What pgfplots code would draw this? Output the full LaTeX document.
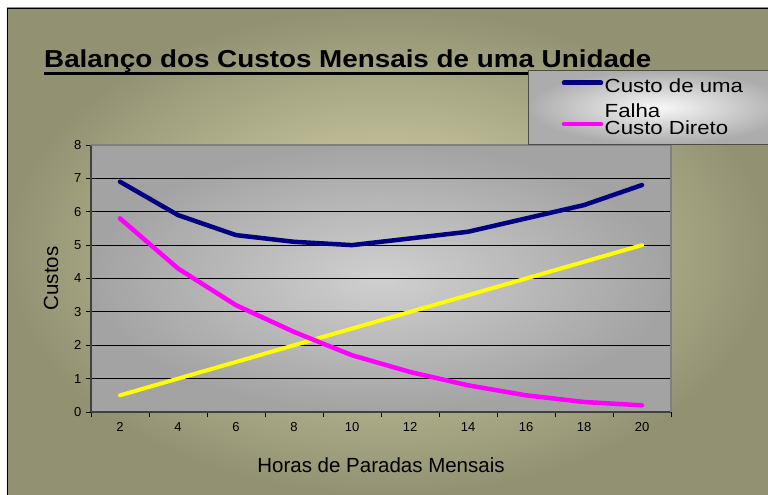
\documentclass[border=0pt]{standalone}
\usepackage{fontspec}
\setmainfont{Liberation Sans}
\usepackage{pgfplots}
\pgfplotsset{compat=1.18}
\pgfdeclarelayer{background}
\pgfsetlayers{background,main}
\definecolor{navyc}{RGB}{0,0,128}
\definecolor{pinkc}{RGB}{255,0,255}
\definecolor{yellowc}{RGB}{255,255,0}
\definecolor{olivelight}{RGB}{222,221,178}
\definecolor{olivedark}{RGB}{146,145,114}
\definecolor{plotlight}{RGB}{208,208,208}
\definecolor{plotdark}{RGB}{163,163,163}
\definecolor{leglight}{RGB}{248,248,248}
\definecolor{legdark}{RGB}{172,172,172}
\newcommand{\myul}[1]{\setbox0\hbox{#1}\rlap{\rule[-7.5pt]{\wd0}{3pt}}\box0}
\newcommand{\lt}[1]{\scalebox{1.17}[1]{#1}}
\pgfplotstableread{
x blue pink yellow
2 6.9 5.8 0.5
4 5.9 4.3 1.0
6 5.3 3.2 1.5
8 5.1 2.4 2.0
10 5.0 1.7 2.5
12 5.2 1.2 3.0
14 5.4 0.8 3.5
16 5.8 0.5 4.0
18 6.2 0.3 4.5
20 6.8 0.2 5.0
}\datatable
\begin{document}
\begin{tikzpicture}
\begin{axis}[
  scale only axis, width=580pt, height=267pt,
  xmin=1, xmax=21, ymin=0, ymax=8,
  axis x line*=bottom, axis y line*=left,
  axis line style={draw=black!75, line width=1.5pt},
  xtick={1,3,...,21}, xticklabels={,,,,,,,,,,,},
  extra x ticks={2,4,...,20},
  extra x tick labels={2,4,6,8,10,12,14,16,18,20},
  extra x tick style={major tick length=0pt, tick style={draw=none}},
  ytick={0,1,...,8},
  tick align=outside,
  major tick length=5pt,
  tick style={black, line width=0.8pt},
  ymajorgrids,
  grid style={black, line width=0.8pt},
  /pgf/number format/assume math mode=true,
  ticklabel style={font=\fontsize{13}{16}\selectfont},
  xticklabel style={yshift=-7pt},
  yticklabel style={xshift=-1pt},
  xlabel={Horas de Paradas Mensais},
  ylabel={Custos},
  label style={font=\fontsize{20.5}{24}\selectfont},
  xlabel style={at={(axis description cs:0.5,-0.1985)}, anchor=center},
  ylabel style={at={(axis description cs:-0.069,0.5)}, anchor=center},
  axis background/.style={shade, inner color=plotlight, outer color=plotdark},
  legend image code/.code={\draw[#1] (0pt,10pt) -- (37pt,10pt);},
  legend style={at={(axis description cs:0.753,1.281)}, anchor=north west,
    shade, inner color=leglight, outer color=legdark, draw=black!70, line width=1pt,
    inner xsep=33.5pt, inner ysep=7pt, row sep=23pt,
    font=\fontsize{19}{25}\selectfont,
    cells={anchor=base west},
    nodes={inner sep=1.5pt}},
  after end axis/.code={\draw[black!50, line width=1.5pt] (rel axis cs:0,1) -- (rel axis cs:1,1) -- (rel axis cs:1,0);
    \coordinate (sw) at (rel axis cs:0,0);},
]
\addplot[yellowc, line width=4pt, line cap=round, line join=round, forget plot] table[x=x, y=yellow] {\datatable};
\addplot[navyc, line width=4.5pt, line cap=round, line join=round] table[x=x, y=blue] {\datatable};
\addlegendentry{\vtop{\hbox{\makebox[150pt][l]{\lt{Custo de uma}}}\hbox{\lt{Falha}}}}
\addplot[pinkc, line width=4.5pt, line cap=round, line join=round] table[x=x, y=pink] {\datatable};
\addlegendentry{\lt{Custo Direto}\rule[-11pt]{0pt}{11pt}}
\end{axis}
\begin{scope}[shift={(sw)}, x=1pt, y=1pt, xshift=-91pt, yshift=-83pt]
\begin{pgfonlayer}{background}
\fill[white] (0,0) rectangle (768,495);
\shade[inner color=olivelight, outer color=olivedark] (7,0) rectangle (768,487);
\draw[black, line width=1.2pt] (7.6,0) -- (7.6,486.4) -- (768,486.4);
\node[anchor=base west, inner sep=0pt, font=\fontsize{24.5}{29}\selectfont\bfseries] at (44,427) {\scalebox{1.135}[1]{\myul{Balanço dos Custos Mensais de uma Unidade}}};
\end{pgfonlayer}
\pgfresetboundingbox
\useasboundingbox (0,0) rectangle (768,495);
\end{scope}
\end{tikzpicture}
\end{document}
